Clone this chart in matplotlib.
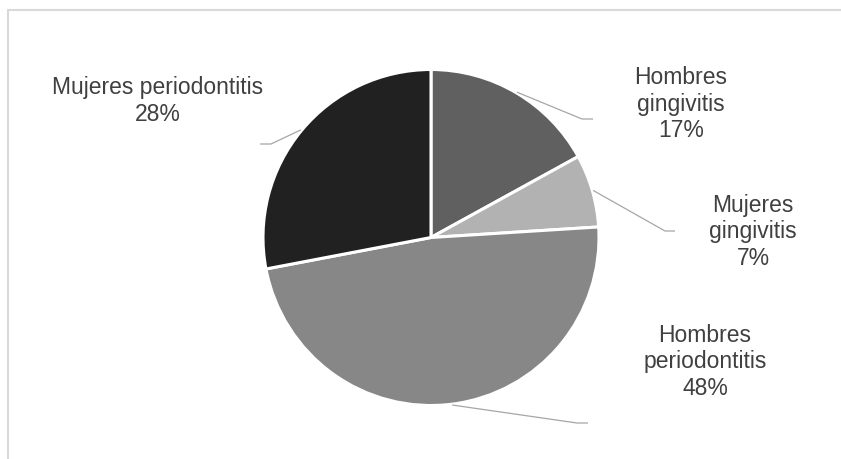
import matplotlib
matplotlib.use("Agg")
import matplotlib.pyplot as plt
import numpy as np
from matplotlib.lines import Line2D

plt.rcParams['font.family'] = ['Liberation Sans', 'DejaVu Sans']

# datos del grafico (porcentajes)
categorias = ["Hombres\ngingivitis", "Mujeres\ngingivitis",
              "Hombres\nperiodontitis", "Mujeres periodontitis"]
valores = [17, 7, 48, 28]
colores = ["#606060", "#b2b2b2", "#878787", "#212121"]

# posiciones de etiquetas y codos de las lineas guia (pixeles, y hacia abajo)
pos_etiquetas = [(681, 104), (753, 232), (705, 362), (158, 101)]
codos = [(582, 120), (665, 232), (577, 424), (271, 145)]
finales = [(593, 120), (675, 232), (588, 424), (260, 145)]

W, H = 841, 460
fig = plt.figure(figsize=(W / 100, H / 100), dpi=100)
ax = fig.add_axes([0, 0, 1, 1])

centro = (431, H - 238.5)
radio = 168
wedges, _ = ax.pie(valores, colors=colores, startangle=90, counterclock=False,
                   center=centro, radius=radio,
                   wedgeprops=dict(edgecolor="white", linewidth=2.2))

ax.set_xlim(0, W)
ax.set_ylim(0, H)
ax.set_aspect("auto")
ax.axis("off")

for w, cat, val, (tx, ty), (ex, ey), (fx, fy) in zip(
        wedges, categorias, valores, pos_etiquetas, codos, finales):
    ang = np.deg2rad((w.theta1 + w.theta2) / 2)
    sx = centro[0] + radio * 1.005 * np.cos(ang)
    sy = centro[1] + radio * 1.005 * np.sin(ang)
    ax.plot([sx, ex, fx], [sy, H - ey, H - fy], color="#a6a6a6", lw=0.9,
            solid_capstyle="butt")
    ax.text(tx, H - ty, f"{cat}\n{val}%", ha="center", va="center",
            fontsize=16.5, color="#404040", linespacing=1.2)

# borde del area del grafico
fig.add_artist(Line2D([8 / W, 1.01], [1 - 11 / H, 1 - 11 / H],
                      transform=fig.transFigure, color="#d9d9d9", lw=1.5))
fig.add_artist(Line2D([8 / W, 8 / W], [1 - 11 / H, -0.01],
                      transform=fig.transFigure, color="#d9d9d9", lw=1.5))

fig.savefig("out.png", dpi=100, facecolor="white")
